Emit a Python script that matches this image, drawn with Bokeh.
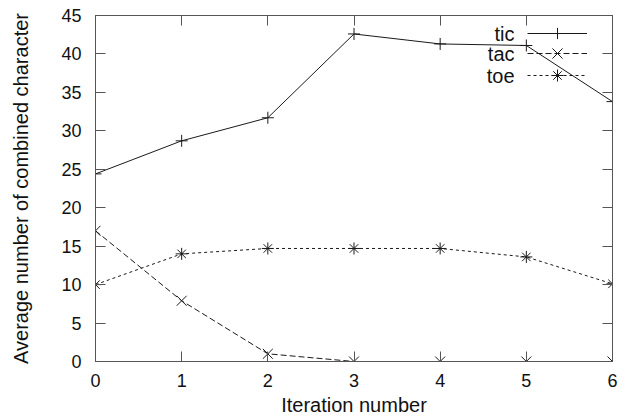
from bokeh.plotting import figure
from bokeh.models import (Range1d, FixedTicker, LinearAxis, Legend, LegendItem, Label)
from bokeh.core.properties import value
from bokeh.embed import file_html
from bokeh.resources import INLINE

iterations = [0, 1, 2, 3, 4, 5, 6]
tic = [24.4, 28.7, 31.7, 42.6, 41.3, 41.1, 33.8]
tac = [17.0, 7.9, 1.0, 0.0, 0.0, 0.0, 0.0]
toe = [10.0, 14.0, 14.7, 14.7, 14.7, 13.6, 10.1]
series_names = ["tic", "tac", "toe"]
x_ticks = [0, 1, 2, 3, 4, 5, 6]
y_ticks = [0, 5, 10, 15, 20, 25, 30, 35, 40, 45]

FONT = "Liberation Sans"
LINE = "#1a1a1a"
FRAME = "#555555"

p = figure(frame_width=517, frame_height=346, output_backend="svg", toolbar_location=None,
           x_range=Range1d(0, 6), y_range=Range1d(0, 45),
           min_border_left=95, min_border_right=8, min_border_top=15, min_border_bottom=58,
           x_axis_label="Iteration number", y_axis_label="Average number of combined character")
p.xgrid.visible = False
p.ygrid.visible = False
p.outline_line_color = FRAME
p.background_fill_color = "white"
p.border_fill_color = "white"

for ax, ticks in ((p.xaxis[0], x_ticks), (p.yaxis[0], y_ticks)):
    ax.ticker = FixedTicker(ticks=ticks)
    ax.major_tick_in = 10
    ax.major_tick_out = 0
    ax.minor_tick_in = 0
    ax.minor_tick_out = 0
    ax.axis_line_color = FRAME
    ax.major_tick_line_color = FRAME
    ax.major_label_text_font = FONT
    ax.major_label_text_font_size = "18px"
    ax.major_label_text_color = "#111111"
    ax.axis_label_text_font = FONT
    ax.axis_label_text_font_size = "20px"
    ax.axis_label_text_font_style = "normal"
    ax.axis_label_text_color = "#111111"

p.yaxis[0].major_label_standoff = 14
p.xaxis[0].major_label_standoff = 12
p.yaxis[0].axis_label_standoff = 26
p.xaxis[0].axis_label_standoff = 4

# mirrored ticks on right and top
for loc, ticks in (("right", y_ticks), ("above", x_ticks)):
    ax = LinearAxis(ticker=FixedTicker(ticks=ticks), major_tick_in=10, major_tick_out=0,
                    minor_tick_in=0, minor_tick_out=0, major_label_text_font_size="0px",
                    major_label_standoff=0, axis_line_color=FRAME, major_tick_line_color=FRAME,
                    major_label_text_alpha=0)
    p.add_layout(ax, loc)

r_tic_l = p.line(iterations, tic, line_color=LINE, line_width=1)
r_tic_m = p.scatter(iterations, tic, marker="cross", size=12, line_color=LINE, line_width=1)
r_tac_l = p.line(iterations, tac, line_color=LINE, line_width=1, line_dash="6 3")
r_tac_m = p.scatter(iterations, tac, marker="x", size=14, line_color=LINE, line_width=1)
r_toe_l = p.line(iterations, toe, line_color=LINE, line_width=1, line_dash="3 3")
r_toe_m = p.scatter(iterations, toe, marker="asterisk", size=12, line_color=LINE, line_width=1)

row_y = [328, 308, 286]
glyph_h = [28, 36, 30]
for rends, cy, gh in zip([[r_tic_l, r_tic_m], [r_tac_l, r_tac_m], [r_toe_l, r_toe_m]], row_y, glyph_h):
    lg = Legend(items=[LegendItem(label=value(""), renderers=rends)],
                location=(432, cy - gh // 2), glyph_width=60, glyph_height=gh, label_width=0,
                label_height=gh, label_standoff=0, spacing=0, padding=0, margin=0,
                border_line_color=None, background_fill_alpha=0, label_text_font_size="1px")
    p.add_layout(lg, "center")

for name, ly in zip(series_names, row_y):
    p.add_layout(Label(x=419, y=ly, x_units="screen", y_units="screen", text=name,
                       text_align="right", text_baseline="middle", text_font=FONT,
                       text_font_size="20px", text_color="#111111"))

open("out.html", "w").write(file_html(p, INLINE))
